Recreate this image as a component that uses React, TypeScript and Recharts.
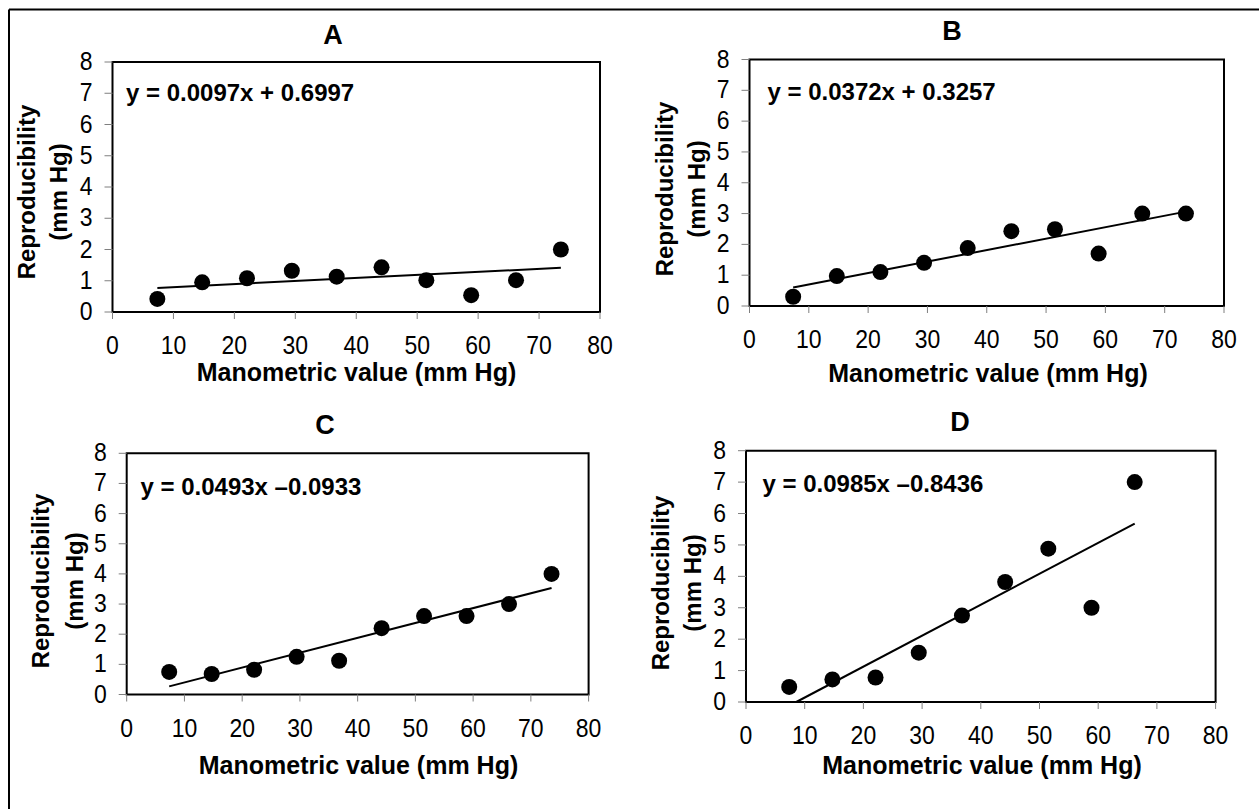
import React from "react";
import {
  ScatterChart,
  Scatter,
  XAxis,
  YAxis,
  ReferenceArea,
  ReferenceLine,
} from "recharts";

// Manometric reference pressures (mm Hg) shared by all four protocols
const manometricValues = [7.36, 14.72, 22.07, 29.43, 36.79, 44.15, 51.5, 58.86, 66.22, 73.58];

// Reproducibility (mm Hg) for each protocol
const reproducibilityA = [0.42, 0.95, 1.08, 1.32, 1.13, 1.43, 1.02, 0.54, 1.02, 2.0];
const reproducibilityB = [0.3, 0.97, 1.1, 1.4, 1.88, 2.43, 2.49, 1.7, 3.0, 3.0];
const reproducibilityC = [0.75, 0.68, 0.82, 1.25, 1.12, 2.2, 2.6, 2.6, 3.0, 4.0];
const reproducibilityD = [0.48, 0.72, 0.78, 1.57, 2.75, 3.82, 4.88, 3.0, 7.0];

// Linear regression coefficients: [slope, intercept]
const trendA = [0.0097, 0.6997];
const trendB = [0.0372, 0.3257];
const trendC = [0.0493, -0.0933];
const trendD = [0.0985, -0.8436];

const panelTitles = ["A", "B", "C", "D"];
const xTicks = [0, 10, 20, 30, 40, 50, 60, 70, 80];
const yTicks = [0, 1, 2, 3, 4, 5, 6, 7, 8];

const FONT = "'Liberation Sans', Arial, sans-serif";
const W = 1259;
const H = 809;
const Y_AXIS_W = 60;
const X_AXIS_H = 50;

type Layout = {
  region: [number, number, number, number]; // x, y, w, h
  plot: [number, number, number, number]; // left, top, right, bottom
  title: [number, number];
  equation: [number, number];
  yLabel: [number, number, number]; // col1 x, col2 x, center y
  xLabel: [number, number]; // center x, baseline y
};

const layouts: Layout[] = [
  {
    region: [0, 0, 630, 400],
    plot: [112.5, 62, 600, 312],
    title: [333, 44],
    equation: [126, 101],
    yLabel: [26, 58, 192],
    xLabel: [356.5, 381],
  },
  {
    region: [630, 0, 629, 400],
    plot: [749.5, 59.5, 1224, 306],
    title: [952, 40],
    equation: [767.5, 100],
    yLabel: [664, 696, 189],
    xLabel: [988, 382],
  },
  {
    region: [0, 400, 630, 409],
    plot: [126.7, 453.3, 588.6, 694.5],
    title: [325, 434],
    equation: [140.5, 495],
    yLabel: [40, 74, 581],
    xLabel: [358.5, 774],
  },
  {
    region: [630, 400, 629, 409],
    plot: [746, 450.7, 1215.6, 702],
    title: [960, 431],
    equation: [762.5, 492],
    yLabel: [660, 692, 583],
    xLabel: [982, 774],
  },
];

const series = [reproducibilityA, reproducibilityB, reproducibilityC, reproducibilityD];
const trends = [trendA, trendB, trendC, trendD];

const fmt = (v: number) => Math.abs(v).toFixed(4);
const equationText = (t: number[]) =>
  t[1] >= 0 ? `y = ${fmt(t[0])}x + ${fmt(t[1])}` : `y = ${fmt(t[0])}x \u2013${fmt(t[1])}`;

const Dot = (props: any) => {
  const { cx, cy } = props;
  if (cx == null || cy == null) return null;
  return <circle cx={cx} cy={cy} r={8} fill="#000" />;
};

// Tick text drawn slightly taller than wide, like the chart's original lettering
const TallTick = (props: any) => {
  const { x, y, payload, textAnchor, orientation } = props;
  const dy = orientation === "bottom" ? 17 : 8;
  return (
    <text
      transform={`translate(${x},${y + dy}) scale(1,1.1)`}
      textAnchor={textAnchor}
      fontSize={23}
      fontFamily={FONT}
      fill="#000"
    >
      {payload.value}
    </text>
  );
};

function Panel({ idx }: { idx: number }) {
  const lay = layouts[idx];
  const [rx, ry, rw, rh] = lay.region;
  const [pl, pt, pr, pb] = lay.plot;
  const values = series[idx];
  const data = values.map((y, i) => ({ x: manometricValues[i], y }));
  const [m, b] = trends[idx];
  const xs = data.map((d) => d.x);
  const xMin = Math.max(Math.min(...xs), b < 0 ? -b / m : -Infinity);
  const xMax = Math.max(...xs);
  const margin = {
    left: pl - rx - Y_AXIS_W,
    top: pt - ry,
    right: rx + rw - pr,
    bottom: ry + rh - pb - X_AXIS_H,
  };
  return (
    <div style={{ position: "absolute", left: rx, top: ry, width: rw, height: rh }}>
      <ScatterChart width={rw} height={rh} margin={margin}>
        <XAxis
          type="number"
          dataKey="x"
          domain={[0, 80]}
          ticks={xTicks}
          height={X_AXIS_H}
          axisLine={false}
          tickLine={{ stroke: "#7f7f7f", strokeWidth: 1 }}
          tickSize={7}
          tickMargin={18}
          tick={<TallTick orientation="bottom" />}
          interval={0}
        />
        <YAxis
          type="number"
          dataKey="y"
          domain={[0, 8]}
          ticks={yTicks}
          width={Y_AXIS_W}
          axisLine={false}
          tickLine={{ stroke: "#7f7f7f", strokeWidth: 1 }}
          tickSize={8}
          tickMargin={12}
          tick={<TallTick orientation="left" />}
          interval={0}
        />
        <ReferenceArea
          x1={0}
          x2={80}
          y1={0}
          y2={8}
          fill="none"
          fillOpacity={0}
          stroke="#000"
          strokeWidth={2}
        />
        <ReferenceLine
          segment={[
            { x: xMin, y: m * xMin + b },
            { x: xMax, y: m * xMax + b },
          ]}
          stroke="#000"
          strokeWidth={2}
          ifOverflow="visible"
        />
        <Scatter data={data} fill="#000" shape={Dot} isAnimationActive={false} />
      </ScatterChart>
    </div>
  );
}

export default function App() {
  return (
    <div
      style={{
        position: "absolute",
        left: 0,
        top: 0,
        width: W,
        height: H,
        background: "#fff",
        overflow: "hidden",
      }}
    >
      {layouts.map((_, i) => (
        <Panel key={i} idx={i} />
      ))}
      <svg
        width={W}
        height={H}
        style={{ position: "absolute", left: 0, top: 0, pointerEvents: "none" }}
        fontFamily={FONT}
      >
        <line x1={9} y1={9.5} x2={W} y2={9.5} stroke="#000" strokeWidth={2} />
        <line x1={9} y1={9.5} x2={9} y2={H} stroke="#000" strokeWidth={2} />
        {layouts.map((lay, i) => (
          <g key={i}>
            <text
              x={lay.title[0]}
              y={lay.title[1]}
              textAnchor="middle"
              fontSize={27}
              fontWeight="bold"
              fill="#000"
            >
              {panelTitles[i]}
            </text>
            <text
              x={lay.equation[0]}
              y={lay.equation[1]}
              fontSize={24}
              fontWeight="bold"
              fill="#000"
              style={{ whiteSpace: "pre" }}
            >
              {equationText(trends[i])}
            </text>
            <text
              transform={`translate(${lay.yLabel[0]},${lay.yLabel[2]}) rotate(-90)`}
              textAnchor="middle"
              dominantBaseline="central"
              fontSize={24}
              fontWeight="bold"
              fill="#000"
            >
              Reproducibility
            </text>
            <text
              transform={`translate(${lay.yLabel[1]},${lay.yLabel[2]}) rotate(-90)`}
              textAnchor="middle"
              dominantBaseline="central"
              fontSize={24}
              fontWeight="bold"
              fill="#000"
            >
              (mm Hg)
            </text>
            <text
              x={lay.xLabel[0]}
              y={lay.xLabel[1]}
              textAnchor="middle"
              fontSize={25}
              fontWeight="bold"
              fill="#000"
            >
              Manometric value (mm Hg)
            </text>
          </g>
        ))}
      </svg>
    </div>
  );
}
